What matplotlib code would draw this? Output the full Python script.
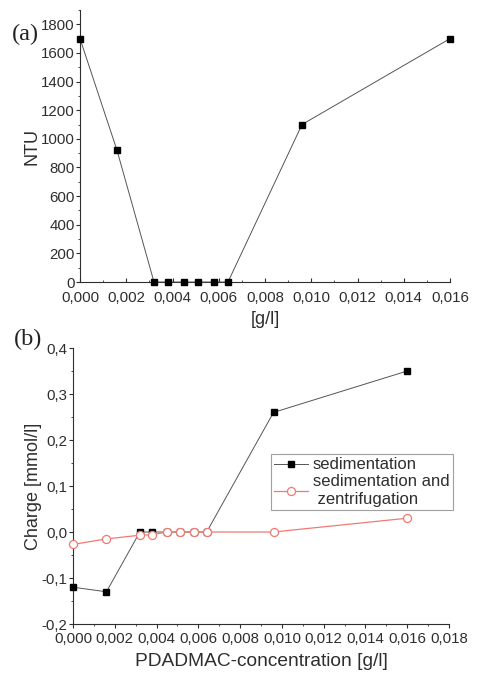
import matplotlib
matplotlib.use("Agg")
import matplotlib.pyplot as plt
from matplotlib.ticker import MultipleLocator, FuncFormatter

plt.rcParams['font.family'] = ['Liberation Sans', 'DejaVu Sans']

# Data
conc = [0.0, 0.0016, 0.0032, 0.0038, 0.0045, 0.0051, 0.0058, 0.0064, 0.0096, 0.016]
ntu = [1700, 920, 0, 0, 0, 0, 0, 0, 1100, 1700]
charge_sed = [-0.12, -0.13, 0.0, 0.0, 0.0, 0.0, 0.0, 0.0, 0.26, 0.35]
charge_sed_zent = [-0.027, -0.015, -0.007, -0.006, 0.0, 0.0, 0.0, 0.0, 0.0, 0.03]

W, H = 484, 682
fig = plt.figure(figsize=(W / 100, H / 100), dpi=100)

def comma(fmt):
    return FuncFormatter(lambda v, p: (fmt % v).replace('.', ','))

txt_col = '#2e2e2e'
line_col = '#555555'
red = '#f07a72'
tick_fs = 10.8

# Panel (a)
ax1 = fig.add_axes([80 / W, 1 - 282 / H, 370 / W, 272 / H])
ax1.plot(conc, ntu, color=line_col, lw=0.7, marker='s', ms=4.6,
         mfc='black', mec='black', clip_on=False, zorder=3)
ax1.set_xlim(0, 0.016)
ax1.set_ylim(0, 1900)
ax1.xaxis.set_major_locator(MultipleLocator(0.002))
ax1.xaxis.set_minor_locator(MultipleLocator(0.001))
ax1.yaxis.set_major_locator(MultipleLocator(200))
ax1.yaxis.set_minor_locator(MultipleLocator(100))
ax1.xaxis.set_major_formatter(comma('%.3f'))
ax1.yaxis.set_major_formatter(FuncFormatter(lambda v, p: '%d' % v if v <= 1800 else ''))
ax1.set_ylabel('NTU', fontsize=13, color=txt_col, labelpad=0)
ax1.set_xlabel('[g/l]', fontsize=13, color=txt_col, labelpad=4.5)
ax1.tick_params(axis='y', which='major', direction='out', length=3, labelsize=tick_fs, colors=txt_col, pad=0.8)
ax1.tick_params(axis='y', which='minor', direction='out', length=1.5, colors=txt_col)
ax1.tick_params(axis='x', which='major', direction='in', length=3, labelsize=tick_fs, colors=txt_col, pad=6.5)
ax1.tick_params(axis='x', which='minor', direction='in', length=1.5, colors=txt_col)
for s in ['top', 'right']:
    ax1.spines[s].set_visible(False)
for s in ['left', 'bottom']:
    ax1.spines[s].set_color(txt_col)
fig.text(12 / W, 1 - 40 / H, '(a)', fontsize=17.5, family='Liberation Serif', color='#222222', va='baseline')

# Panel (b)
ax2 = fig.add_axes([73 / W, 1 - 624 / H, 376 / W, 276 / H])
ax2.plot(conc, charge_sed, color=line_col, lw=0.7, marker='s', ms=4.6,
         mfc='black', mec='black', clip_on=False, zorder=3, label='sedimentation')
ax2.plot(conc, charge_sed_zent, color=red, lw=0.9, marker='o', ms=5.8,
         mfc='white', mec=red, mew=0.9, clip_on=False, zorder=4,
         label='sedimentation and\n zentrifugation')
ax2.set_xlim(0, 0.018)
ax2.set_ylim(-0.2, 0.4)
ax2.xaxis.set_major_locator(MultipleLocator(0.002))
ax2.xaxis.set_minor_locator(MultipleLocator(0.001))
ax2.yaxis.set_major_locator(MultipleLocator(0.1))
ax2.yaxis.set_minor_locator(MultipleLocator(0.05))
ax2.xaxis.set_major_formatter(comma('%.3f'))
ax2.yaxis.set_major_formatter(FuncFormatter(lambda v, p: ('%.1f' % (0 if abs(v) < 1e-9 else v)).replace('.', ',')))
ax2.set_ylabel('Charge [mmol/l]', fontsize=13, color=txt_col, labelpad=0)
ax2.set_xlabel('PDADMAC-concentration [g/l]', fontsize=13.8, color=txt_col, labelpad=5)
ax2.tick_params(axis='both', which='major', direction='out', length=3, labelsize=tick_fs, colors=txt_col, pad=0.8)
ax2.tick_params(axis='both', which='minor', direction='out', length=1.5, colors=txt_col)
ax2.tick_params(axis='x', which='major', pad=3)
for s in ['top', 'right']:
    ax2.spines[s].set_visible(False)
for s in ['left', 'bottom']:
    ax2.spines[s].set_color(txt_col)
leg = ax2.legend(loc='upper left', bbox_to_anchor=((271 - 73) / 376, (624 - 454) / 276),
                 fontsize=12, frameon=True, fancybox=False, borderpad=0.2,
                 handlelength=2.0, handletextpad=0.3, labelspacing=0.12,
                 borderaxespad=0)
leg.get_frame().set_edgecolor('#888888')
leg.get_frame().set_linewidth(0.8)
for t in leg.get_texts():
    t.set_color(txt_col)
fig.text(14 / W, 1 - 345 / H, '(b)', fontsize=17.5, family='Liberation Serif', color='#222222', va='baseline')

fig.savefig('out.png', dpi=100)
